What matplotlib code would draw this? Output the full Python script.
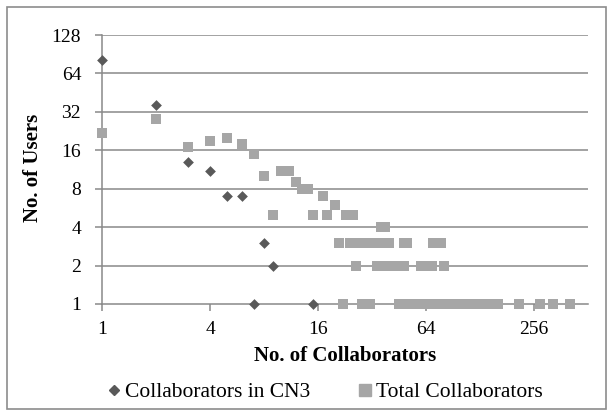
import matplotlib
matplotlib.use("Agg")
import matplotlib.pyplot as plt
from matplotlib.lines import Line2D
from matplotlib.patches import Rectangle

# ---- data ----
cn3_x = [1, 2, 3, 4, 5, 6, 7, 8, 9, 15]
cn3_y = [82, 36, 13, 11, 7, 7, 1, 3, 2, 1]

total_x = [1, 2, 3, 4, 5, 6, 7, 8, 9, 10, 11, 12, 13, 14, 15, 17, 18, 20, 23, 25,
           36, 38,
           21, 24, 27, 30, 33, 36, 40, 48, 50, 70, 78,
           26, 34, 38, 41, 44, 48, 60, 64, 69, 81,
           22, 28, 31,
           45, 47, 49, 52, 54, 57, 60, 63, 66, 70, 73, 77, 81, 85, 90, 95, 100,
           105, 111, 117, 123, 130, 137, 145, 153, 162,
           210, 278, 325, 406]
total_y = [22, 28, 17, 19, 20, 18, 15, 10, 5, 11, 11, 9, 8, 8, 5, 7, 5, 6, 5, 5,
           4, 4,
           3, 3, 3, 3, 3, 3, 3, 3, 3, 3, 3,
           2, 2, 2, 2, 2, 2, 2, 2, 2, 2,
           1, 1, 1,
           1, 1, 1, 1, 1, 1, 1, 1, 1, 1, 1, 1, 1, 1, 1, 1, 1,
           1, 1, 1, 1, 1, 1, 1, 1, 1,
           1, 1, 1, 1]

x_ticks = [1, 4, 16, 64, 256]
y_ticks = [1, 2, 4, 8, 16, 32, 64, 128]

plt.rcParams['font.family'] = ['Liberation Serif', 'DejaVu Serif']

W, H = 613, 415
fig = plt.figure(figsize=(W / 100, H / 100), dpi=100)
ax = fig.add_axes([102 / W, 1 - 304 / H, (588 - 102) / W, (304 - 35) / H])

grid_c = '#898989'
ax.set_xscale('log', base=2)
ax.set_yscale('log', base=2)
ax.set_xlim(1, 512)
ax.set_ylim(1, 128)

for yv in y_ticks[1:]:
    ax.axhline(yv, color=grid_c, lw=1.1, zorder=1)

ax.scatter(total_x, total_y, marker='s', s=50, color='#a6a6a6', linewidths=0,
           zorder=3, clip_on=False)
ax.scatter(cn3_x, cn3_y, marker='D', s=30, color='#595959', linewidths=0,
           zorder=4, clip_on=False)

ax.set_xticks(x_ticks)
ax.set_xticklabels([str(v) for v in x_ticks])
ax.set_yticks(y_ticks)
ax.set_yticklabels([str(v) for v in y_ticks])
ax.minorticks_off()
ax.tick_params(axis='both', which='major', direction='out', length=5,
               width=1.1, color=grid_c, labelsize=14, colors='black')
ax.tick_params(axis='x', pad=7)
ax.tick_params(axis='y', pad=10)
for t in ax.get_xticklabels() + ax.get_yticklabels():
    t.set_color('black')

for s in ['top', 'right']:
    ax.spines[s].set_visible(False)
for s in ['left', 'bottom']:
    ax.spines[s].set_color(grid_c)
    ax.spines[s].set_linewidth(1.1)

fig.text(345 / W, 1 - 356 / H, 'No. of Collaborators', ha='center', va='center',
         fontsize=15, fontweight='bold')
fig.text(33 / W, 1 - 168 / H, 'No. of Users', ha='center', va='center',
         rotation=90, fontsize=15, fontweight='bold')

handles = [Line2D([], [], marker='D', ls='none', color='#595959', ms=5),
           Line2D([], [], marker='s', ls='none', color='#a6a6a6', ms=8)]
fig.legend(handles, ['Collaborators in CN3', 'Total Collaborators'],
           loc='center', bbox_to_anchor=(326 / W, 23 / H), ncol=2, frameon=False,
           fontsize=15.5, handlelength=0.5, handletextpad=0.25, columnspacing=2.3,
           borderpad=0)

fig.patches.append(Rectangle((7 / W, 6 / H), (606 - 7) / W, (408 - 6) / H,
                             transform=fig.transFigure, fill=False,
                             edgecolor='#8c8c8c', lw=1.2))

fig.savefig('out.png', dpi=100)
